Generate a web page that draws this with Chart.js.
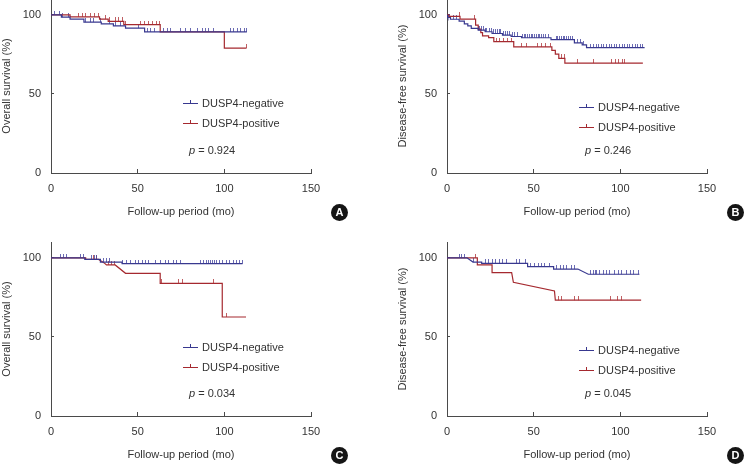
<!DOCTYPE html>
<html lang="en">
<head>
<meta charset="UTF-8">
<title>DUSP4 survival curves</title>
<script src="https://cdn.jsdelivr.net/npm/chart.js"></script>
<style>
  html, body { margin: 0; padding: 0; background: #fff; }
  body { width: 745px; height: 466px; position: relative; overflow: hidden;
         font-family: "Liberation Sans", Arial, sans-serif; color: #333; }
  .panel { position: absolute; width: 372px; height: 240px; }
  .panel canvas { position: absolute; left: 0; top: 0; }
  .leg { position: absolute; left: 183px; font-size: 11px; line-height: 14px; white-space: nowrap; }
  .leg .mk { position: absolute; left: 0; top: 7px; width: 15px; height: 0; border-top: 1.2px solid; }
  .leg .mk::after { content: ''; position: absolute; left: 7px; top: -4px; height: 3px; border-left: 1px solid; }
  .leg .tx { position: absolute; left: 19px; top: 0; }
  .pval { position: absolute; left: 189px; font-size: 11px; line-height: 14px; white-space: nowrap; }
  .badge { position: absolute; left: 331px; top: 225px; width: 17px; height: 17px; border-radius: 50%;
           background: #151515; color: #fff; font-weight: bold; font-size: 11px; line-height: 17px; text-align: center; }
</style>
</head>
<body>

<script>
// tick labels
const xTicks = [0, 50, 100, 150];
const yTicks = [0, 50, 100];
const xTitle = 'Follow-up period (mo)';
const yTitles = ['Overall survival (%)', 'Disease-free survival (%)', 'Overall survival (%)', 'Disease-free survival (%)'];
const seriesNames = ['DUSP4-negative', 'DUSP4-positive'];
const pValues = ['0.924', '0.246', '0.034', '0.045'];
const panelLetters = ['A', 'B', 'C', 'D'];

// A - overall survival (curve vertices: time, survival %)
const aNegT = [0, 6, 6, 11, 11, 19, 19, 29, 29, 36, 36, 43, 43, 54, 54, 113];
const aNegS = [100, 100, 98.5, 98.5, 97.3, 97.3, 95.4, 95.4, 94.3, 94.3, 93, 93, 91.6, 91.6, 89.2, 89.2];
const aPosT = [0, 11, 11, 28, 28, 33, 33, 42, 42, 63, 63, 100, 100, 112.8];
const aPosS = [100, 100, 98.7, 98.7, 97.3, 97.3, 95.8, 95.8, 93.8, 93.8, 89.2, 89.2, 79, 79];
const aNegCens = [2, 5, 6.5, 10, 20, 22.5, 24.5, 28.5, 34, 37, 40, 50.5, 55.5, 57.5, 59.5, 65, 67, 69, 74.5, 77.5, 80.5, 84.5, 87.5, 89, 91, 94, 103.5, 105.5, 107.5, 109.5, 111.5, 113];
const aPosCens = [16, 18, 20, 22.5, 25, 27.5, 31.5, 33.5, 37, 39, 41, 43, 51.5, 54, 56.5, 58.5, 61, 62.5, 112.5];

// B - disease-free survival
const bNegT = [0, 0.5, 0.5, 2, 2, 7, 7, 10, 10, 12, 12, 14, 14, 18, 18, 22, 22, 26, 26, 32, 32, 37, 37, 43, 43, 60, 60, 73.5, 73.5, 78, 78, 80.5, 80.5, 114];
const bNegS = [100, 100, 98.3, 98.3, 97.2, 97.2, 96, 96, 94.3, 94.3, 93, 93, 91.4, 91.4, 90.3, 90.3, 89.3, 89.3, 88.2, 88.2, 87.2, 87.2, 86.3, 86.3, 85.5, 85.5, 84.3, 84.3, 82.3, 82.3, 81, 81, 79.3, 79.3];
const bPosT = [0, 1, 1, 7.5, 7.5, 16.5, 16.5, 18, 18, 19.5, 19.5, 20.5, 20.5, 24, 24, 27, 27, 38.5, 38.5, 60.5, 60.5, 62.5, 62.5, 64.5, 64.5, 68, 68, 113];
const bPosS = [100, 100, 99, 99, 97.3, 97.3, 93.5, 93.5, 91, 91, 88.8, 88.8, 86.7, 86.7, 85.6, 85.6, 83.1, 83.1, 79.7, 79.7, 77.5, 77.5, 75.1, 75.1, 72.5, 72.5, 69.5, 69.5];
const bNegCens = [1.5, 3.5, 5.5, 18, 19, 20, 21, 22, 23, 24.5, 25.5, 27, 28, 29, 30, 31, 32.5, 33.5, 35, 36, 37.5, 39, 40.5, 43.5, 44.5, 45.5, 46.5, 47.5, 48.5, 49.5, 50.5, 51.5, 52.5, 53.5, 54.5, 55.5, 57, 58.5, 63, 64, 65, 66, 67, 68, 69, 70, 71.5, 72.5, 75.5, 77, 78.5, 83, 84.5, 86, 87.5, 89, 90.5, 92, 93.5, 95, 96.5, 98, 99.5, 101, 102.5, 104, 105.5, 107, 108.5, 110, 111.5, 113];
const bPosCens = [7, 16, 28.5, 30.5, 32.5, 35, 37, 43, 46, 52, 54.5, 57, 59.5, 66, 67.5, 75, 84.5, 95, 97, 99, 101, 102.5];

// C - overall survival
const cNegT = [0, 19.5, 19.5, 28.5, 28.5, 41, 41, 110.5];
const cNegS = [100, 100, 99, 99, 97.3, 97.3, 96.3, 96.3];
const cPosT = [0, 20, 20, 27.5, 31, 32, 37, 43, 63, 63, 98.8, 98.8, 112.5];
const cPosS = [100, 100, 99, 99, 96.5, 95.5, 95.5, 90.2, 90.2, 83.8, 83.8, 62.6, 62.6];
const cNegCens = [5.2, 7.1, 9.1, 16.8, 18.7, 23.6, 25, 26.5, 30, 32, 34, 41.3, 43.8, 46, 48.5, 50.5, 52.5, 54.5, 56.5, 60.2, 63, 65.8, 68, 70.5, 72.5, 74.5, 86.3, 88.2, 89.5, 91, 92.2, 93.2, 94.2, 95.3, 97, 99, 101, 103, 105, 107, 109, 110.4];
const cPosCens = [24.5, 26.5, 33, 35, 36.5, 64, 73.7, 75.7, 94, 101.5];

// D - disease-free survival
const dNegT = [0, 11.5, 15, 20, 20, 46.5, 46.5, 61.5, 61.5, 75.5, 81.5, 111];
const dNegS = [100, 100, 97.3, 97.3, 96.5, 96.5, 94.4, 94.4, 92.9, 92.9, 89.6, 89.6];
const dPosT = [0, 17.5, 17.5, 26, 26, 37.3, 38.3, 62, 62.5, 112];
const dPosS = [100, 100, 95.6, 95.6, 90.6, 90.6, 84.5, 79, 73.2, 73.2];
const dNegCens = [7.3, 8.5, 10.2, 15.5, 22, 24, 26, 28, 30, 32, 34.4, 40.2, 42, 45, 48.3, 50.2, 52.5, 54.5, 56.5, 59.3, 63.3, 65.2, 67.2, 69.1, 72, 73.8, 82.5, 84.4, 85.4, 86.3, 88.2, 90.2, 92.1, 94, 96.9, 98.8, 100.8, 103.7, 105.6, 107.5, 110.4];
const dPosCens = [16.5, 64.5, 65.8, 73.7, 76, 94.4, 98.6, 100.9];

const BLUE = '#38388f';
const RED = '#a5292f';
const BLUE_TICK = 'rgba(70,70,160,0.8)';
const RED_TICK = 'rgba(175,55,60,0.8)';
const AXIS = '#4a4a4a';
const TEXT = '#333';
const FONT = { family: '"Liberation Sans", Arial, sans-serif', size: 11 };

const panels = [
    { left: 0,   top: -21, legendUp: 70, negT: aNegT, negS: aNegS, posT: aPosT, posS: aPosS, negC: aNegCens, posC: aPosCens },
    { left: 396, top: -21, legendUp: 66, negT: bNegT, negS: bNegS, posT: bPosT, posS: bPosS, negC: bNegCens, posC: bPosCens },
    { left: 0,   top: 222, legendUp: 69, negT: cNegT, negS: cNegS, posT: cPosT, posS: cPosS, negC: cNegCens, posC: cPosCens },
    { left: 396, top: 222, legendUp: 66, negT: dNegT, negS: dNegS, posT: dPosT, posS: dPosS, negC: dNegCens, posC: dPosCens }
];

function toXY(T, S) {
    return T.map((t, i) => ({ x: t, y: S[i] }));
}

// survival value on the drawn curve at time t (used to sit censor ticks on the line)
function survAt(T, S, t) {
    for (let i = 0; i < T.length - 1; i++) {
        if (t >= T[i] && t < T[i + 1]) {
            return S[i] + (S[i + 1] - S[i]) * (t - T[i]) / (T[i + 1] - T[i]);
        }
    }
    return S[S.length - 1];
}

// small vertical mark sitting above the point
function censorMark(color) {
    const c = document.createElement('canvas');
    c.width = 1;
    c.height = 8;
    const g = c.getContext('2d');
    g.fillStyle = color;
    g.fillRect(0, 0, 1, 4);
    return c;
}

const hideZero = ctx => (ctx.tick && ctx.tick.value === 0) ? 'rgba(0,0,0,0)' : AXIS;

panels.forEach((p, idx) => {
    const div = document.createElement('div');
    div.className = 'panel';
    div.style.left = p.left + 'px';
    div.style.top = p.top + 'px';
    document.body.appendChild(div);

    const canvas = document.createElement('canvas');
    canvas.width = 372;
    canvas.height = 240;
    div.appendChild(canvas);

    new Chart(canvas.getContext('2d'), {
        type: 'line',
        data: {
            datasets: [
                { label: seriesNames[0], data: toXY(p.negT, p.negS), borderColor: BLUE, borderWidth: 1.2, pointRadius: 0, tension: 0 },
                { label: seriesNames[1], data: toXY(p.posT, p.posS), borderColor: RED, borderWidth: 1.2, pointRadius: 0, tension: 0 },
                { data: p.negC.map(t => ({ x: t, y: survAt(p.negT, p.negS, t) })), showLine: false,
                  pointStyle: censorMark(BLUE_TICK), pointRadius: 4 },
                { data: p.posC.map(t => ({ x: t, y: survAt(p.posT, p.posS, t) })), showLine: false,
                  pointStyle: censorMark(RED_TICK), pointRadius: 4 }
            ]
        },
        options: {
            responsive: false,
            animation: false,
            events: [],
            layout: { padding: { top: 20, right: 61, left: 0, bottom: 0 } },
            plugins: { legend: { display: false }, tooltip: { enabled: false } },
            scales: {
                x: {
                    type: 'linear', min: 0, max: 150,
                    afterBuildTicks: s => { s.ticks = xTicks.map(v => ({ value: v })); },
                    afterFit: s => { s.height = 46; },
                    ticks: { font: FONT, color: TEXT, padding: 13, maxRotation: 0, autoSkip: false },
                    grid: { drawOnChartArea: false, tickLength: -4, tickColor: hideZero },
                    border: { color: AXIS, width: 1 },
                    title: { display: true, text: xTitle, font: FONT, color: TEXT, padding: 0 }
                },
                y: {
                    type: 'linear', min: 0, max: 110,
                    afterBuildTicks: s => { s.ticks = yTicks.map(v => ({ value: v })); },
                    afterFit: s => { s.width = 51; },
                    ticks: { font: FONT, color: TEXT, padding: 13 },
                    grid: { drawOnChartArea: false, tickLength: -3, tickColor: hideZero },
                    border: { color: AXIS, width: 1 },
                    title: { display: true, text: yTitles[idx], font: FONT, color: TEXT, padding: 0 }
                }
            }
        }
    });

    // legend, p value and panel letter
    const bottom = 194;
    [[seriesNames[0], BLUE, 0], [seriesNames[1], RED, 20]].forEach(([name, color, dy]) => {
        const row = document.createElement('div');
        row.className = 'leg';
        row.style.top = (bottom - p.legendUp + dy - 7) + 'px';
        row.innerHTML = '<span class="mk" style="color:' + color + '"></span><span class="tx">' + name + '</span>';
        div.appendChild(row);
    });
    const pv = document.createElement('div');
    pv.className = 'pval';
    pv.style.top = (bottom - 23.5 - 7) + 'px';
    pv.innerHTML = '<i>p</i> = ' + pValues[idx];
    div.appendChild(pv);

    const badge = document.createElement('div');
    badge.className = 'badge';
    badge.textContent = panelLetters[idx];
    div.appendChild(badge);
});
</script>
</body>
</html>
